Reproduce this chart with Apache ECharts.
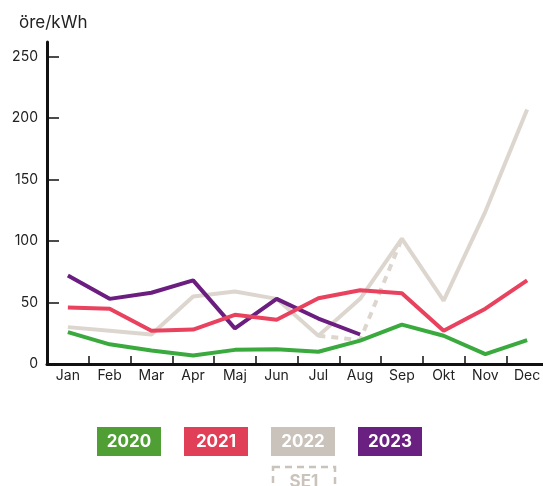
<!DOCTYPE html>
<html>
<head>
<meta charset="utf-8">
<script src="https://cdn.jsdelivr.net/npm/echarts@6/dist/echarts.min.js"></script>
<style>
html, body { margin: 0; padding: 0; background: #fff; overflow: hidden; }
#chart { width: 548px; height: 486px; }
</style>
</head>
<body>
<div id="chart"></div>
<script>
var months = ['Jan', 'Feb', 'Mar', 'Apr', 'Maj', 'Jun', 'Jul', 'Aug', 'Sep', 'Okt', 'Nov', 'Dec'];
var yTicks = [0, 50, 100, 150, 200, 250];

var y2020 = [26, 16, 11, 7, 11.5, 12, 10, 19, 32, 23, 8, 19.5];
var y2021 = [46, 45, 27, 28, 40, 36, 53.5, 60, 57.5, 27, 45, 68];
var y2022 = [30, 27, 24, 55, 59, 53, 23, 53, 102, 51.5, 124, 207];
var y2022se1 = [null, null, null, null, null, null, 23, 19.5, 102, null, null, null];
var y2023 = [72, 53, 58, 68, 29, 53, 37, 24];

var legendNames = ['2020', '2021', '2022', '2023'];
var legendColors = ['#4f9f35', '#e13f57', '#cac3bb', '#6a2080'];

var font = 'Inter';
var axisColor = '#111';

var chart = echarts.init(document.getElementById('chart'));

var legendItems = [];
legendNames.forEach(function (name, i) {
    var cx = 129 + i * 87;
    legendItems.push({
        type: 'rect',
        shape: { x: cx - 32, y: 427, width: 64, height: 29 },
        style: { fill: legendColors[i] }
    });
    legendItems.push({
        type: 'text',
        x: cx, y: 442,
        style: {
            text: name, fill: '#fff', font: 'bold 17px ' + font,
            align: 'center', verticalAlign: 'middle'
        }
    });
});
// dashed SE1 box under 2022
legendItems.push({
    type: 'rect',
    shape: { x: 273, y: 467, width: 62, height: 30 },
    style: { fill: 'none', stroke: '#cac3bb', lineWidth: 2.5, lineDash: [7, 5] }
});
legendItems.push({
    type: 'text',
    x: 304, y: 482,
    style: {
        text: 'SE1', fill: '#cac3bb', font: 'bold 17px ' + font,
        align: 'center', verticalAlign: 'middle'
    }
});

function line(name, data, color, dashed) {
    return {
        name: name,
        type: 'line',
        data: data,
        symbol: 'none',
        silent: true,
        lineStyle: { color: color, width: 4, type: dashed ? [7, 6] : 'solid' },
        itemStyle: { color: color }
    };
}

chart.setOption({
    animation: false,
    textStyle: { fontFamily: font },
    title: {
        text: 'öre/kWh',
        left: 14,
        top: 9,
        textStyle: { fontSize: 17, fontWeight: 'normal', color: '#222', fontFamily: font }
    },
    grid: { left: 47, right: 0, top: 42, height: 322, containLabel: false },
    xAxis: {
        type: 'category',
        data: months,
        boundaryGap: true,
        axisLine: { lineStyle: { color: axisColor, width: 3 } },
        axisTick: { show: true, inside: true, length: 8, lineStyle: { color: axisColor, width: 1.5 } },
        axisLabel: { color: '#222', fontSize: 14, margin: 5, fontFamily: font }
    },
    yAxis: {
        type: 'value',
        min: 0,
        max: 262,
        axisLine: { show: true, lineStyle: { color: axisColor, width: 3 } },
        axisTick: { show: true, inside: true, length: 12, customValues: yTicks, lineStyle: { color: axisColor, width: 1.5 } },
        axisLabel: { customValues: yTicks, color: '#222', fontSize: 14, margin: 9, fontFamily: font },
        splitLine: { show: false }
    },
    graphic: legendItems,
    series: [
        line('2022', y2022, '#ddd6cf'),
        line('2022 SE1', y2022se1, '#ddd6cf', true),
        line('2020', y2020, '#3aaa3e'),
        line('2023', y2023, '#6b1e80'),
        line('2021', y2021, '#e8425f')
    ]
});
</script>
</body>
</html>
